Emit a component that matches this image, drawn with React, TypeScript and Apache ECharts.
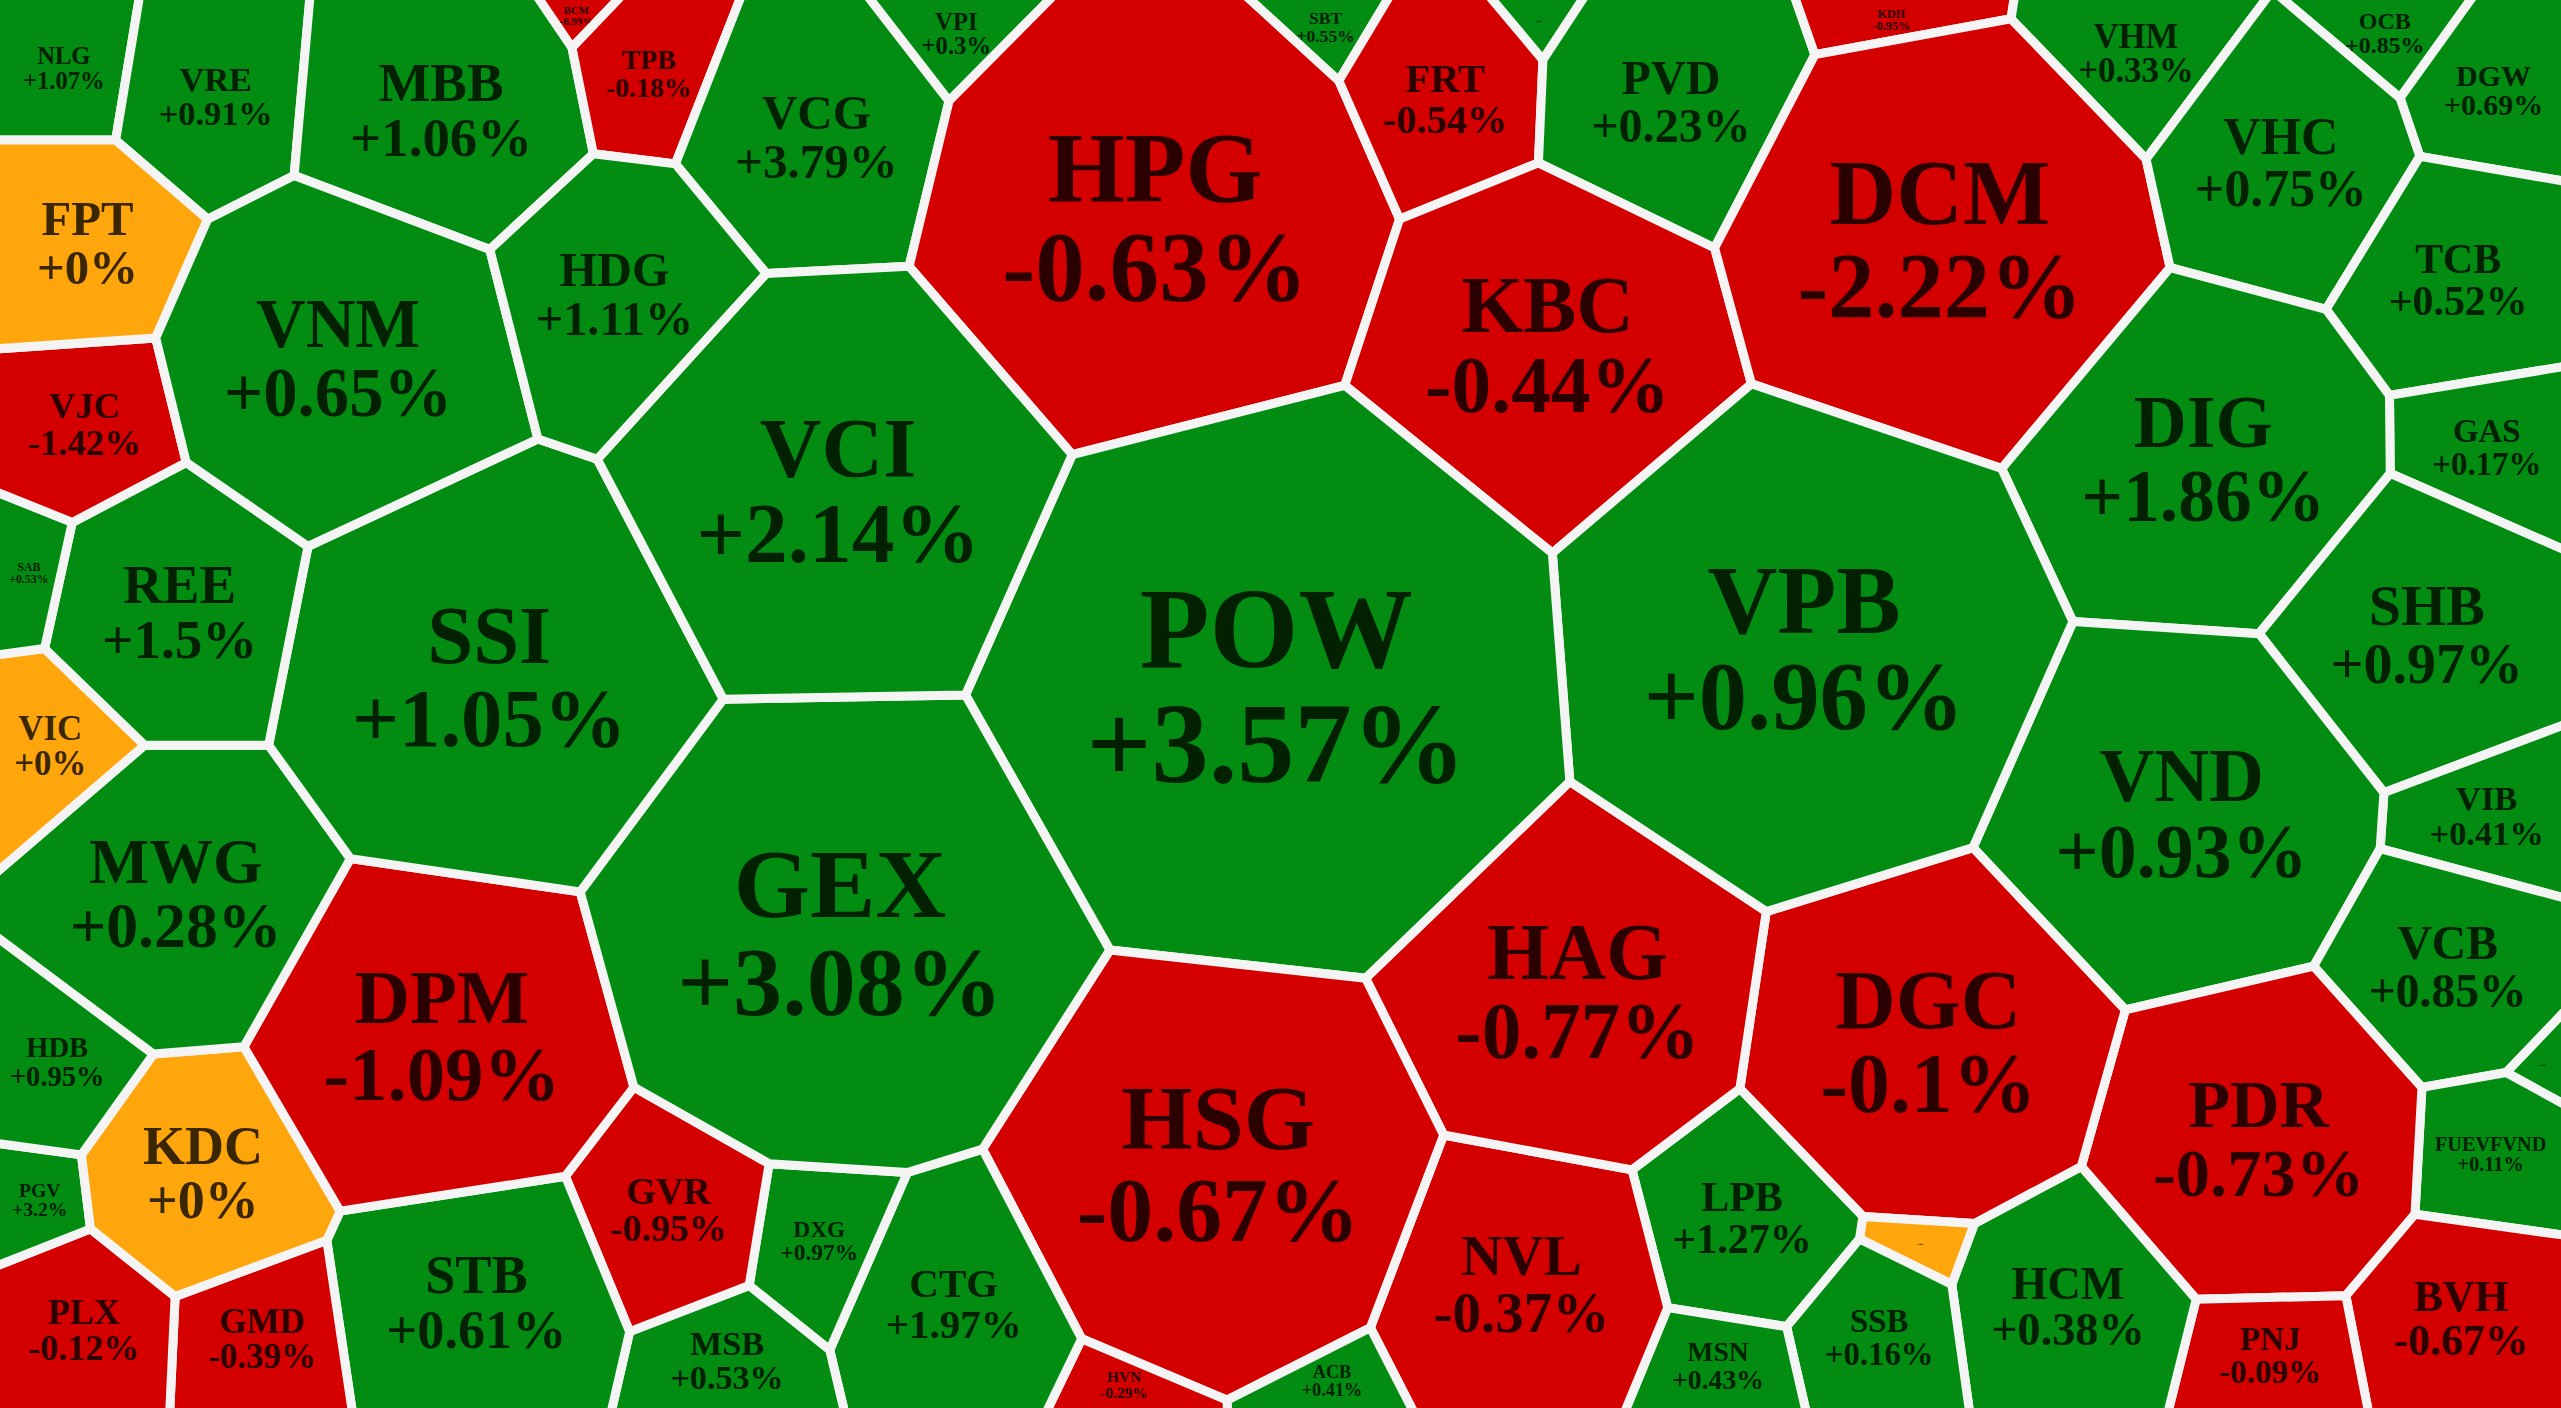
import React, { useEffect, useRef } from "react";
import * as echarts from "echarts";

// Ticker symbols (cells of the Voronoi treemap)
const tickers = [
  "NLG", "VRE", "MBB", "BCM", "TPB", "VCG", "VPI", "HPG", "SBT", "FRT", "...", "PVD", "KDH", "VHM", "OCB", "DGW",
  "KBC", "DCM", "VHC", "TCB", "GAS", "DIG", "SHB", "VIB", "VND", "VCB", "...",
  "FUEVFVND", "PDR", "BVH", "PNJ", "HCM", "DGC", "...", "LPB", "SSB", "MSN", "NVL",
  "HAG", "VPB", "POW", "HSG", "ACB", "HVN", "CTG", "DXG", "MSB", "GVR",
  "STB", "GMD", "PLX", "PGV", "KDC", "HDB", "DPM", "GEX", "MWG", "VIC",
  "SSI", "VCI", "REE", "SAB", "VJC", "FPT", "VNM", "HDG",
];

// Daily change, %
const changes = [
  1.07, 0.91, 1.06, -0.99, -0.18, 3.79, 0.3, -0.63, 0.55, -0.54, 0.2, 0.23, -0.95, 0.33, 0.85, 0.69,
  -0.44, -2.22, 0.75, 0.52, 0.17, 1.86, 0.97, 0.41, 0.93, 0.85, 0.3,
  0.11, -0.73, -0.67, -0.09, 0.38, -0.1, 0, 1.27, 0.16, 0.43, -0.37,
  -0.77, 0.96, 3.57, -0.67, 0.41, -0.29, 1.97, 0.97, 0.53, -0.95,
  0.61, -0.39, -0.12, 3.2, 0, 0.95, -1.09, 3.08, 0.28, 0,
  1.05, 2.14, 1.5, 0.53, -1.42, 0, 0.65, 1.11,
];

// Site position of each cell (percent of width / height)
const siteX = [
  2.7, 8.0, 17.3, 22.9, 25.2, 31.8, 37.4, 45.0, 52.0, 56.4, 60.0, 65.2, 74.3, 83.5, 93.8, 97.4,
  60.5, 75.9, 89.3, 96.2, 97.4, 86.2, 94.4, 97.4, 85.3, 96.0, 99.5,
  97.3, 88.3, 96.4, 88.5, 80.8, 75.4, 74.9, 68.2, 73.3, 67.3, 59.3,
  61.4, 70.5, 49.7, 47.6, 51.8, 44.0, 37.4, 32.0, 28.4, 26.3,
  18.6, 10.1, 3.1, 1.1, 7.8, 1.8, 17.0, 32.8, 6.9, 1.8,
  19.1, 32.5, 6.9, 0.9, 3.2, 2.7, 13.5, 24.1,
];
const siteY = [
  4.4, 6.0, 7.5, 0.6, 4.6, 9.3, 1.4, 15.1, 1.2, 6.0, 0.5, 6.7, 0.9, 3.5, 1.7, 6.4,
  24.4, 16.8, 11.4, 19.1, 32.3, 32.5, 44.7, 59.2, 57.7, 68.7, 74.8,
  82.1, 81.2, 93.7, 96.5, 93.0, 74.6, 89.0, 87.2, 94.9, 97.4, 91.4,
  70.8, 45.8, 48.7, 83.3, 98.4, 98.8, 93.0, 88.7, 96.9, 87.0,
  92.8, 95.1, 94.5, 85.3, 83.8, 76.0, 74.0, 66.1, 63.6, 52.8,
  47.6, 34.8, 43.2, 40.8, 30.4, 17.2, 25.8, 20.9,
];

// Relative weight (cell size) of each ticker
const weights = [
  6400, 10000, 24000, 400, 5500, 18000, 2000, 63000, 900, 10000, 300, 19000, 2000, 9000, 4500, 9000,
  33000, 54000, 19000, 15000, 6000, 35000, 24000, 6000, 40000, 15000, 500,
  7000, 32000, 13000, 6000, 16000, 36000, 50, 12000, 8000, 5000, 25000,
  34000, 70000, 100000, 55000, 1200, 1200, 16000, 6000, 6500, 10000,
  24000, 8000, 10000, 2500, 15000, 7000, 37000, 70000, 25000, 7000,
  55000, 55000, 20000, 3000, 8000, 12000, 38000, 18000,
];

const BG = "#F4F4F4";
const UP = "#028C12";
const DOWN = "#D40000";
const FLAT = "#FFA60C";
const UP_TXT = "#012100";
const DOWN_TXT = "#2A0000";
const FLAT_TXT = "#3A2600";
const FONT = "'Liberation Serif', 'Times New Roman', serif";

type Pt = [number, number];

function clipHalf(poly: Pt[], a: number, b: number, c: number): Pt[] {
  const out: Pt[] = [];
  const n = poly.length;
  for (let k = 0; k < n; k++) {
    const P = poly[k];
    const Q = poly[(k + 1) % n];
    const fp = a * P[0] + b * P[1] - c;
    const fq = a * Q[0] + b * Q[1] - c;
    if (fp <= 0) out.push(P);
    if ((fp <= 0) !== (fq <= 0)) {
      const t = fp / (fp - fq);
      out.push([P[0] + t * (Q[0] - P[0]), P[1] + t * (Q[1] - P[1])]);
    }
  }
  return out;
}

function clipBox(poly: Pt[], x0: number, y0: number, x1: number, y1: number): Pt[] {
  let p = clipHalf(poly, -1, 0, -x0);
  p = clipHalf(p, 1, 0, x1);
  p = clipHalf(p, 0, -1, -y0);
  p = clipHalf(p, 0, 1, y1);
  return p;
}

function areaCentroid(poly: Pt[]) {
  let A = 0, cx = 0, cy = 0;
  for (let k = 0; k < poly.length; k++) {
    const [x0, y0] = poly[k];
    const [x1, y1] = poly[(k + 1) % poly.length];
    const cr = x0 * y1 - x1 * y0;
    A += cr;
    cx += (x0 + x1) * cr;
    cy += (y0 + y1) * cr;
  }
  A /= 2;
  if (Math.abs(A) < 1e-9) return { area: 0, cx: poly[0]?.[0] || 0, cy: poly[0]?.[1] || 0 };
  return { area: Math.abs(A), cx: cx / (6 * A), cy: cy / (6 * A) };
}

function chordAt(poly: Pt[], v: number, vertical: boolean): number {
  const xs: number[] = [];
  const a = vertical ? 0 : 1;
  const o = vertical ? 1 : 0;
  for (let k = 0; k < poly.length; k++) {
    const P = poly[k];
    const Q = poly[(k + 1) % poly.length];
    if ((P[a] <= v && Q[a] > v) || (Q[a] <= v && P[a] > v)) {
      const t = (v - P[a]) / (Q[a] - P[a]);
      xs.push(P[o] + t * (Q[o] - P[o]));
    }
  }
  if (xs.length < 2) return 0;
  return Math.max(...xs) - Math.min(...xs);
}

function edgeDist(poly: Pt[], x: number, y: number): number {
  let best = Infinity;
  for (let k = 0; k < poly.length; k++) {
    const P = poly[k];
    const Q = poly[(k + 1) % poly.length];
    const dx = Q[0] - P[0], dy = Q[1] - P[1];
    const L = dx * dx + dy * dy;
    let t = L > 0 ? ((x - P[0]) * dx + (y - P[1]) * dy) / L : 0;
    t = Math.max(0, Math.min(1, t));
    const ex = P[0] + t * dx - x, ey = P[1] + t * dy - y;
    best = Math.min(best, Math.sqrt(ex * ex + ey * ey));
  }
  return best;
}

let measureCtx: CanvasRenderingContext2D | null = null;
function textWidth100(s: string): number {
  if (!measureCtx) measureCtx = document.createElement("canvas").getContext("2d");
  if (!measureCtx) return s.length * 55;
  measureCtx.font = `bold 100px ${FONT}`;
  return measureCtx.measureText(s).width;
}

function pctText(v: number): string {
  return (v >= 0 ? "+" : "") + v + "%";
}

export default function App() {
  const ref = useRef<HTMLDivElement>(null);

  useEffect(() => {
    document.body.style.margin = "0";
    document.body.style.overflow = "hidden";
    const el = ref.current!;
    const chart = echarts.init(el, null, { renderer: "svg" });

    let cache: { key: string; cells: any[] } | null = null;

    const build = (cs: any, api: any) => {
      const pts: Pt[] = tickers.map((_, i) => api.coord([siteX[i], siteY[i]]) as Pt);
      const W = cs.width, H = cs.height;
      const total = weights.reduce((s, v) => s + v, 0);
      const pw = weights.map((v) => 0.28 * (v / total) * W * H);
      const m = 12;
      const X0 = cs.x - m, Y0 = cs.y - m, X1 = cs.x + W + m, Y1 = cs.y + H + m;
      return pts.map((p, i) => {
        let poly: Pt[] = [[X0, Y0], [X1, Y0], [X1, Y1], [X0, Y1]];
        for (let j = 0; j < pts.length && poly.length >= 3; j++) {
          if (j === i) continue;
          const q = pts[j];
          const a = 2 * (q[0] - p[0]);
          const b = 2 * (q[1] - p[1]);
          const c = q[0] * q[0] + q[1] * q[1] - p[0] * p[0] - p[1] * p[1] - pw[j] + pw[i];
          poly = clipHalf(poly, a, b, c);
        }
        const vis = poly.length >= 3 ? clipBox(poly, cs.x, cs.y, cs.x + W, cs.y + H) : [];
        const ac = vis.length >= 3 ? areaCentroid(vis) : { area: 0, cx: p[0], cy: p[1] };
        return { poly, vis, ...ac };
      });
    };

    const option: any = {
      animation: false,
      backgroundColor: BG,
      grid: { left: 0, right: 0, top: 0, bottom: 0 },
      xAxis: { type: "value", min: 0, max: 100, show: false },
      yAxis: { type: "value", min: 0, max: 100, inverse: true, show: false },
      series: [
        {
          type: "custom",
          coordinateSystem: "cartesian2d",
          clip: true,
          data: tickers.map((t, i) => [siteX[i], siteY[i], changes[i], weights[i]]),
          encode: { x: 0, y: 1 },
          renderItem: (params: any, api: any) => {
            const cs = params.coordSys;
            const key = `${cs.x},${cs.y},${cs.width},${cs.height}`;
            if (!cache || cache.key !== key) cache = { key, cells: build(cs, api) };
            const i = params.dataIndex;
            const cell = cache.cells[i];
            if (!cell || cell.poly.length < 3) return { type: "group", children: [] };
            const v = changes[i];
            const fill = v > 0 ? UP : v < 0 ? DOWN : FLAT;
            const tc = v > 0 ? UP_TXT : v < 0 ? DOWN_TXT : FLAT_TXT;
            const children: any[] = [
              {
                type: "polygon",
                shape: { points: cell.poly },
                style: { fill, stroke: BG, lineWidth: 9, lineJoin: "round" },
              },
            ];
            const dots = tickers[i] === "...";
            const lines = dots ? ["..."] : [tickers[i], pctText(v)];
            const hChord = chordAt(cell.vis, cell.cy, false);
            const vChord = chordAt(cell.vis, cell.cx, true);
            const r = edgeDist(cell.vis, cell.cx, cell.cy);
            let fs = 0.26 * Math.sqrt(cell.area);
            const wT = textWidth100(lines[0]) / 100;
            if (wT > 0) fs = Math.min(fs, (0.78 * hChord) / wT);
            if (lines.length > 1) {
              const wP = textWidth100(lines[1]) / 100;
              if (wP > 0) fs = Math.min(fs, (0.64 * hChord) / wP);
            }
            fs = Math.min(fs, 0.3 * vChord, 0.75 * r);
            if (dots) fs = Math.min(fs, 8);
            fs = Math.max(fs, 4);
            const lh = 1.0 * fs;
            lines.forEach((s, k) => {
              const y = cell.cy + (k - (lines.length - 1) / 2) * lh;
              children.push({
                type: "text",
                style: {
                  text: s,
                  x: cell.cx,
                  y,
                  fill: tc,
                  fontSize: fs,
                  fontWeight: "bold",
                  fontFamily: FONT,
                  align: "center",
                  verticalAlign: "middle",
                },
              });
            });
            return { type: "group", children };
          },
        },
      ],
    };

    chart.setOption(option);
    const onResize = () => chart.resize();
    window.addEventListener("resize", onResize);
    return () => {
      window.removeEventListener("resize", onResize);
      chart.dispose();
    };
  }, []);

  return <div ref={ref} style={{ width: "100vw", height: "100vh", background: BG }} />;
}
